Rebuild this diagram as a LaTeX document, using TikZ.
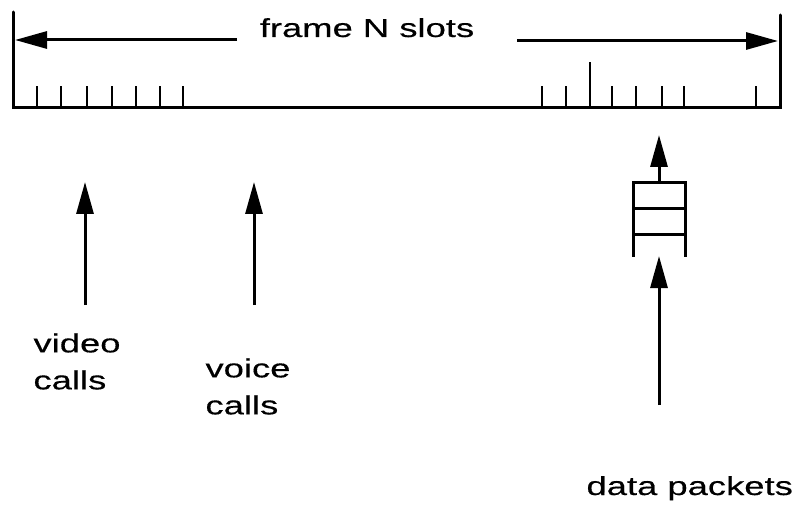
\documentclass[tikz,border=0pt]{standalone}
\usepackage{fontspec}
\setmainfont[FakeStretch=1.4,FakeBold=0.4]{Liberation Sans}
\usetikzlibrary{arrows.meta}
\begin{document}
\begin{tikzpicture}[x=1pt,y=-1pt,
  line width=3pt,
  bar/.style={line cap=round},
  tick/.style={line width=2.8pt},
  arr/.style={-{Triangle[length=32pt,width=17pt]}, line width=3pt},
  lbl/.style={inner sep=0pt, font=\fontsize{26}{37}\selectfont, align=left}]
  \useasboundingbox (0,0) rectangle (799,510);

  % frame boundaries
  \coordinate (fl) at (13,12);
  \coordinate (fr) at (780,15);
  \coordinate (bl) at (13,108);
  \coordinate (br) at (780,108);
  \draw[bar] (fl) -- (bl) -- (br) -- (fr);

  % frame width arrows and label
  \node[lbl, anchor=base] (frame) at (367,37) {frame N slots};
  \coordinate (al) at (15,40);
  \coordinate (ar) at (778,41);
  \coordinate (as) at (237,40);
  \coordinate (ae) at (517,41);
  \draw[arr] (as) -- (al);
  \draw[arr] (ae) -- (ar);

  % slot ticks
  \foreach \x in {37,61,87,112,136,160,183,542,566,612,636,662,684,756}
    \draw[tick] (\x,108) -- (\x,86);
  \draw[tick] (590,108) -- (590,62);

  % video and voice arrivals
  \coordinate (vs) at (85,305);
  \coordinate (vt) at (85,182);
  \coordinate (os) at (254,305);
  \coordinate (ot) at (254,182);
  \draw[arr] (vs) -- (vt);
  \draw[arr] (os) -- (ot);
  \node[lbl, anchor=north west] (video) at (32,332) {video\\calls};
  \node[lbl, anchor=north west] (voice) at (204,357) {voice\\calls};

  % data queue
  \coordinate (q1) at (633,257);
  \coordinate (q2) at (633,183);
  \coordinate (q3) at (685,183);
  \coordinate (q4) at (685,257);
  \draw (q1) -- (q2) -- (q3) -- (q4);
  \draw (633,209) -- (685,209);
  \draw (633,235) -- (685,235);
  \coordinate (qt) at (659,183);
  \coordinate (qo) at (659,135);
  \coordinate (ds) at (659,405);
  \coordinate (dt) at (659,256);
  \draw[arr] (qt) -- (qo);
  \draw[arr] (ds) -- (dt);
  \node[lbl, anchor=base west] (data) at (585,495) {data packets};
\end{tikzpicture}
\end{document}
